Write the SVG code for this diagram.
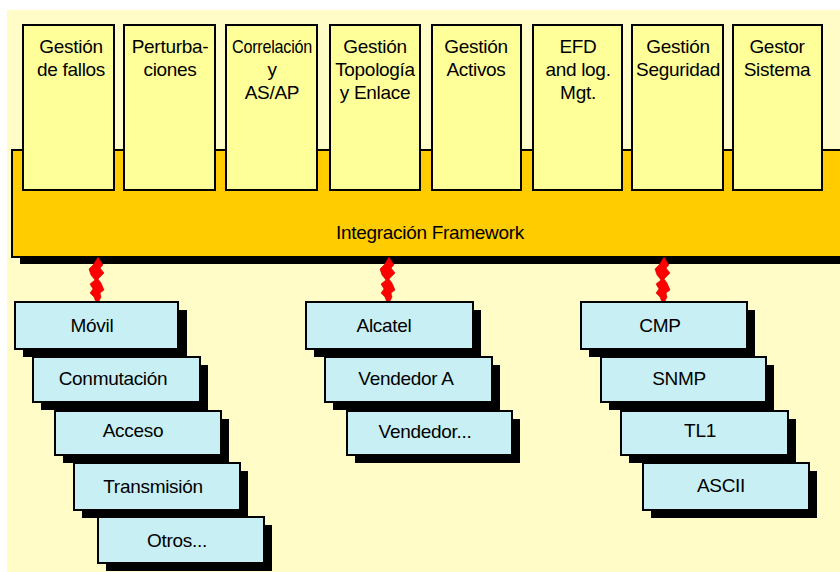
<svg xmlns="http://www.w3.org/2000/svg" width="840" height="572" viewBox="0 0 840 572">
  <style>
    text { font-family: "Liberation Sans", Arial, sans-serif; font-size: 19px; fill: #000; text-anchor: middle; letter-spacing: -0.3px; }
    .app { fill: #ffff99; stroke: #000; stroke-width: 2; }
    .elem { fill: #c8f0f4; stroke: #000; stroke-width: 2; }
    .shadow { fill: #000; }
    .bolt { fill: #ff0000; stroke: #d00000; stroke-width: 0.6; }
  </style>
  <defs>
    <!-- lightning bolt with a point at each end -->
    <polygon id="boltShape" points="1,0 6,8 3,11 7,16 1,22 4,26 7,33 3,36 4,40 0,48 -3,40 -7,36 -4,32 -7,27 -2,23 -6,18 -8,12 -4,8"/>
  </defs>

  <!-- canvas -->
  <rect x="0" y="0" width="840" height="572" fill="#ffffff"/>
  <rect x="7" y="10" width="833" height="562" fill="#fffcc8"/>

  <!-- integration band -->
  <g id="framework">
    <rect class="shadow" x="20" y="157" width="830" height="107"/>
    <rect x="12" y="150" width="840" height="107" fill="#ffcc00" stroke="#000" stroke-width="2"/>
    <text x="430" y="239">Integración Framework</text>
  </g>

  <!-- application modules -->
  <g id="app-fallos">
    <rect class="app" x="23" y="25" width="91" height="165"/>
    <text x="71" y="53">Gestión</text>
    <text x="71" y="76">de fallos</text>
  </g>
  <g id="app-perturbaciones">
    <rect class="app" x="124" y="25" width="91" height="165"/>
    <text x="170" y="53">Perturba-</text>
    <text x="170" y="76">ciones</text>
  </g>
  <g id="app-correlacion">
    <rect class="app" x="226" y="25" width="91" height="165"/>
    <text x="272" y="53" textLength="80" lengthAdjust="spacingAndGlyphs">Correlación</text>
    <text x="272" y="76">y</text>
    <text x="272" y="99">AS/AP</text>
  </g>
  <g id="app-topologia">
    <rect class="app" x="330" y="25" width="90" height="165"/>
    <text x="375" y="53">Gestión</text>
    <text x="375" y="76">Topología</text>
    <text x="375" y="99">y Enlace</text>
  </g>
  <g id="app-activos">
    <rect class="app" x="432" y="25" width="89" height="165"/>
    <text x="476" y="53">Gestión</text>
    <text x="476" y="76">Activos</text>
  </g>
  <g id="app-efd">
    <rect class="app" x="533" y="25" width="89" height="165"/>
    <text x="578" y="53">EFD</text>
    <text x="578" y="76">and log.</text>
    <text x="578" y="99">Mgt.</text>
  </g>
  <g id="app-seguridad">
    <rect class="app" x="632" y="25" width="91" height="165"/>
    <text x="678" y="53">Gestión</text>
    <text x="678" y="76">Seguridad</text>
  </g>
  <g id="app-sistema">
    <rect class="app" x="733" y="25" width="89" height="165"/>
    <text x="777" y="53">Gestor</text>
    <text x="777" y="76">Sistema</text>
  </g>

  <!-- connectors -->
  <g id="connectors">
    <use href="#boltShape" class="bolt" x="97" y="257"/>
    <use href="#boltShape" class="bolt" x="388" y="257"/>
    <use href="#boltShape" class="bolt" x="663" y="257"/>
  </g>

  <!-- network domains -->
  <g id="dom-movil">
    <rect class="shadow" x="23" y="310" width="164" height="47"/>
    <rect class="elem" x="15" y="302" width="163" height="47"/>
    <text x="92" y="332">Móvil</text>
  </g>
  <g id="dom-conmutacion">
    <rect class="shadow" x="41" y="365" width="167" height="45"/>
    <rect class="elem" x="33" y="357" width="167" height="45"/>
    <text x="113" y="385">Conmutación</text>
  </g>
  <g id="dom-acceso">
    <rect class="shadow" x="63" y="419" width="166" height="44"/>
    <rect class="elem" x="55" y="411" width="166" height="44"/>
    <text x="133" y="437">Acceso</text>
  </g>
  <g id="dom-transmision">
    <rect class="shadow" x="82" y="471" width="166" height="47"/>
    <rect class="elem" x="74" y="463" width="166" height="47"/>
    <text x="153" y="493">Transmisión</text>
  </g>
  <g id="dom-otros">
    <rect class="shadow" x="106" y="525" width="166" height="46"/>
    <rect class="elem" x="98" y="517" width="166" height="46"/>
    <text x="177" y="547">Otros...</text>
  </g>

  <!-- vendors -->
  <g id="ven-alcatel">
    <rect class="shadow" x="314" y="310" width="167" height="47"/>
    <rect class="elem" x="306" y="302" width="167" height="47"/>
    <text x="384" y="332">Alcatel</text>
  </g>
  <g id="ven-a">
    <rect class="shadow" x="333" y="365" width="167" height="45"/>
    <rect class="elem" x="325" y="357" width="167" height="45"/>
    <text x="406" y="385">Vendedor A</text>
  </g>
  <g id="ven-otros">
    <rect class="shadow" x="355" y="419" width="165" height="44"/>
    <rect class="elem" x="347" y="411" width="165" height="44"/>
    <text x="425" y="438">Vendedor...</text>
  </g>

  <!-- protocols -->
  <g id="pro-cmp">
    <rect class="shadow" x="589" y="310" width="166" height="47"/>
    <rect class="elem" x="581" y="302" width="166" height="47"/>
    <text x="660" y="332">CMP</text>
  </g>
  <g id="pro-snmp">
    <rect class="shadow" x="609" y="365" width="165" height="45"/>
    <rect class="elem" x="601" y="357" width="165" height="45"/>
    <text x="679" y="385">SNMP</text>
  </g>
  <g id="pro-tl1">
    <rect class="shadow" x="629" y="419" width="167" height="44"/>
    <rect class="elem" x="621" y="411" width="167" height="44"/>
    <text x="700" y="437">TL1</text>
  </g>
  <g id="pro-ascii">
    <rect class="shadow" x="651" y="471" width="166" height="47"/>
    <rect class="elem" x="643" y="463" width="166" height="47"/>
    <text x="721" y="492">ASCII</text>
  </g>
</svg>
